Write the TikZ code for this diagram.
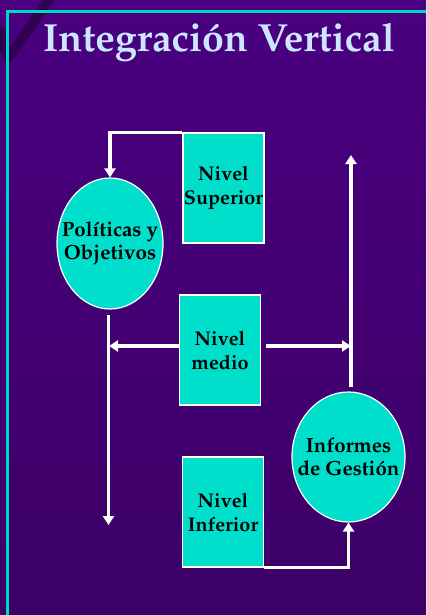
\documentclass[tikz,border=0pt]{standalone}
\usepackage[T1]{fontenc}
\usepackage{mathpazo}
\usetikzlibrary{arrows.meta,shapes.geometric,calc}
\definecolor{bgtop}{HTML}{4A0080}
\definecolor{bgmid}{HTML}{51008C}
\definecolor{bgbot}{HTML}{3C0066}
\definecolor{cyanfill}{HTML}{00DFCB}
\definecolor{cyanline}{HTML}{00D8C6}
\definecolor{titlecol}{HTML}{CCE6FF}
\definecolor{stripe}{HTML}{300052}
\tikzset{
  levelbox/.style={draw=white, line width=1.2pt, fill=cyanfill, rectangle, minimum width=81pt, minimum height=110pt, inner sep=0pt, align=center, text=black, font=\fontsize{19.8}{24}\selectfont\bfseries},
  roundnode/.style={draw=white, line width=1.2pt, fill=cyanfill, ellipse, inner ysep=0pt, inner xsep=-11pt, align=center, text=black, font=\fontsize{20.5}{23}\selectfont\bfseries},
  conn/.style={draw=white, line width=3.2pt},
  arr/.style={conn, -{Triangle[length=9pt,width=11pt]}},
}
\begin{document}
\begin{tikzpicture}[x=1pt,y=-1pt]
\useasboundingbox (0,0) rectangle (426,615);
\shade[top color=bgtop, middle color=bgmid, bottom color=bgbot] (0,0) rectangle (426,615);
\fill[stripe] (-2,28) -- (5,28) -- (10,48) -- (44,-2) -- (56,-2) -- (11,63) -- (5,63) -- (-2,45) -- cycle;
\draw[cyanline, line width=3pt] (7.5,615) -- (7.5,11.5) -- (426,11.5);
\node[anchor=base, text=titlecol, font=\fontsize{39.2}{41}\selectfont\bfseries] (title) at (219,52) {Integraci\'on Vertical};

\node[levelbox] (sup) at (223.5,188) {Nivel\\Superior};
\node[levelbox] (med) at (220,350) {Nivel\\medio};
\node[levelbox] (inf) at (223,512) {Nivel\\Inferior};
\node[roundnode, minimum width=106pt, minimum height=131pt] (pol) at (110,243.5) {Pol\'{\i}ticas y\\Objetivos};
\node[roundnode, minimum width=107pt, minimum height=130pt] (info) at (348.5,457) {Informes\\de Gesti\'on};

\coordinate (lb) at (108.5,525);
\coordinate (lt) at (108.5,315);
\coordinate (ml) at (109,346);
\coordinate (mr) at (351,346);
\coordinate (rt) at (351,155);
\coordinate (rb) at (351,387);

\draw[arr] (sup.north west) -| (pol.north);
\draw[arr] (lt) -- (lb);
\draw[arr] (med.west |- ml) -- (ml);
\draw[arr] ($(med.east |- mr)+(5,0)$) -- (mr);
\draw[arr] (rb) -- (rt);
\draw[arr] (inf.south east) -| (info.south);
\end{tikzpicture}
\end{document}
